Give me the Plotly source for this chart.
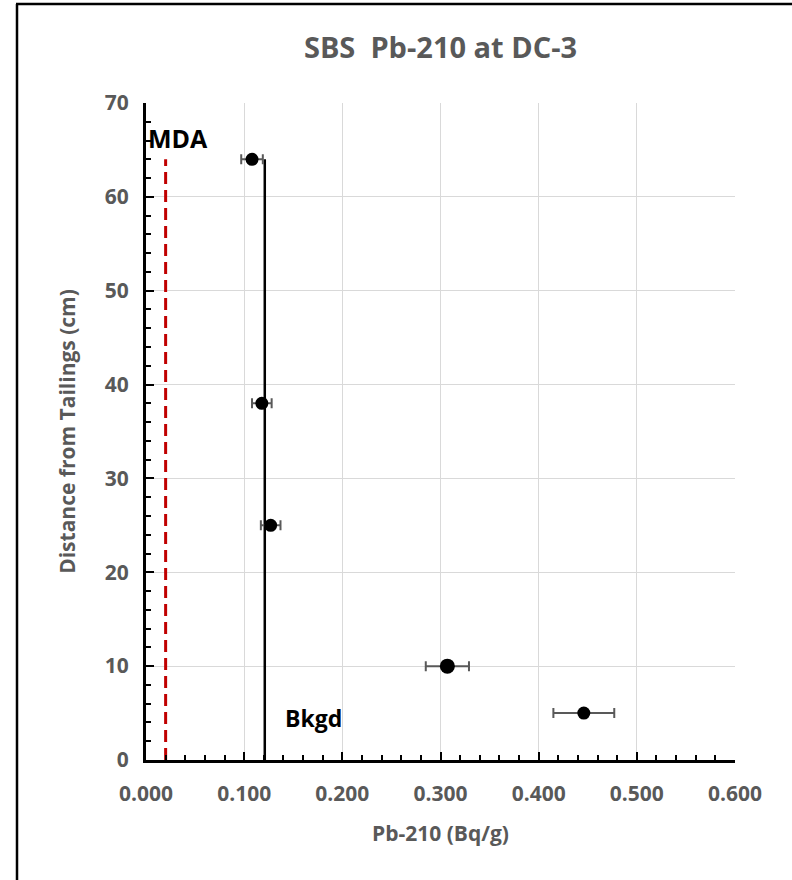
import plotly.graph_objects as go

# Data
pb210 = [0.108, 0.118, 0.127, 0.307, 0.446]
distance = [64, 38, 25, 10, 5]
pb210_err = [0.011, 0.010, 0.010, 0.022, 0.031]
marker_sizes = [13, 13, 13, 15, 13]

mean_x = [0.121, 0.121]
mean_y = [0, 64]
mda_x = [0.020, 0.020]
mda_y = [0, 64]

x_ticks = [0.0, 0.1, 0.2, 0.3, 0.4, 0.5, 0.6]
x_tick_labels = ["0.000", "0.100", "0.200", "0.300", "0.400", "0.500", "0.600"]
y_ticks = [0, 10, 20, 30, 40, 50, 60, 70]

W, H = 792, 880
L, R, T, B = 146, 735, 103, 760

gray = "#595959"
font = "Open Sans"

fig = go.Figure()

fig.add_trace(go.Scatter(
    x=mean_x, y=mean_y, mode="lines",
    line=dict(color="black", width=2.5), showlegend=False, hoverinfo="skip"))
fig.add_trace(go.Scatter(
    x=mda_x, y=mda_y, mode="lines",
    line=dict(color="#c00000", width=3, dash="12px,6px"), showlegend=False, hoverinfo="skip"))
fig.add_trace(go.Scatter(
    x=pb210, y=distance, mode="markers",
    marker=dict(color="black", size=marker_sizes, opacity=1, line=dict(width=0)),
    error_x=dict(type="data", array=pb210_err, color=gray, thickness=2, width=5),
    showlegend=False))

def px2paper_x(px):
    return (px - L) / (R - L)

def px2paper_y(py):
    return (B - py) / (B - T)

fig.add_annotation(x=0.0, y=66.3, xref="x", yref="y", text="MDA", showarrow=False,
                   xanchor="left", font=dict(family=font, size=25, color="black", weight="bold"))
fig.add_annotation(x=0.14, y=4.5, xref="x", yref="y", text="Bkgd", showarrow=False,
                   xanchor="left", font=dict(family=font, size=23, color="black", weight="bold"))

# outer frame
fig.add_shape(type="line", xref="paper", yref="paper",
              x0=px2paper_x(16), x1=px2paper_x(800), y0=px2paper_y(4), y1=px2paper_y(4),
              line=dict(color="black", width=2.5))
fig.add_shape(type="line", xref="paper", yref="paper",
              x0=px2paper_x(17), x1=px2paper_x(17), y0=px2paper_y(4), y1=px2paper_y(900),
              line=dict(color="black", width=2.5))

axis_common = dict(
    showline=True, linecolor="black", linewidth=3,
    showgrid=True, gridcolor="#d9d9d9", gridwidth=1,
    ticks="inside", ticklen=8, tickwidth=2, tickcolor="black",
    zeroline=False, automargin=False,
    tickfont=dict(family=font, size=21, color=gray, weight="bold"),
)

fig.update_layout(
    width=W, height=H,
    margin=dict(l=L, r=W - R, t=T, b=H - B, autoexpand=False),
    paper_bgcolor="white", plot_bgcolor="white",
    title=dict(text="SBS&nbsp; Pb-210 at DC-3", x=0.5, xanchor="center",
               y=1 - 48 / H, yanchor="middle", xref="paper",
               font=dict(family=font, size=29, color=gray, weight="bold")),
    xaxis=dict(range=[0, 0.6], tickvals=x_ticks, ticktext=x_tick_labels,
               title=dict(text="Pb-210 (Bq/g)", font=dict(family=font, size=21, color=gray, weight="bold"), standoff=21),
               ticklabelstandoff=13,
               minor=dict(dtick=0.02, ticks="inside", ticklen=5, tickwidth=2, tickcolor="black", showgrid=False),
               **axis_common),
    yaxis=dict(range=[0, 70], tickvals=y_ticks,
               title=dict(text="Distance from Tailings (cm)", font=dict(family=font, size=21, color=gray, weight="bold"), standoff=24),
               ticklabelstandoff=10,
               minor=dict(dtick=2, ticks="inside", ticklen=5, tickwidth=2, tickcolor="black", showgrid=False),
               **axis_common),
)

fig.write_html("out.html")
